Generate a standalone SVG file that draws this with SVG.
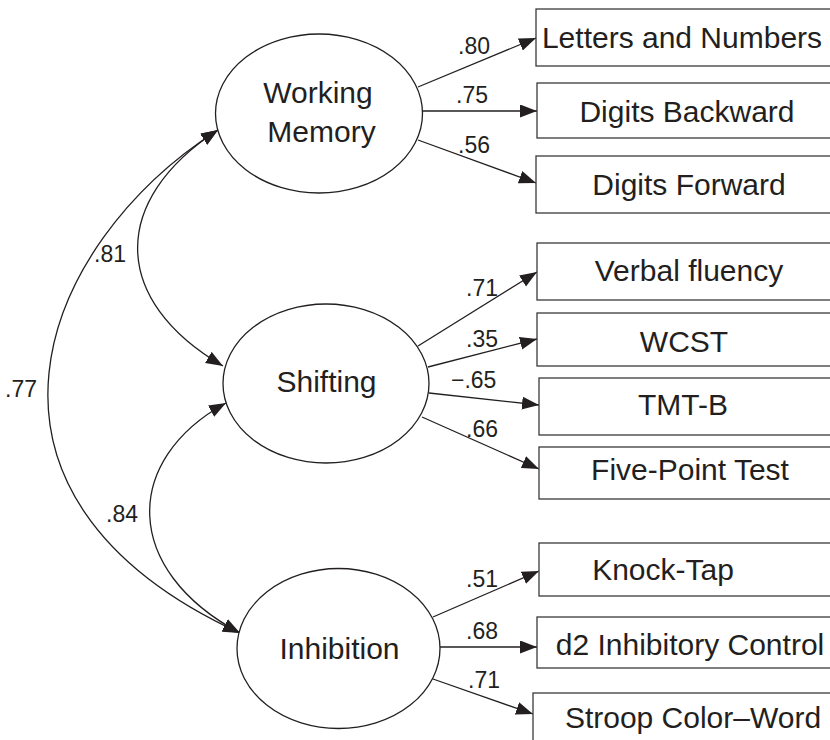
<svg xmlns="http://www.w3.org/2000/svg" width="830" height="740" viewBox="0 0 830 740">
<style>
.lat{fill:#fff;stroke:#231f20;stroke-width:1.3}
.box{fill:#fff;stroke:#3a3a3a;stroke-width:1.3}
.t{font-family:"Liberation Sans",Arial,sans-serif;font-size:30px;fill:#231f20;text-anchor:middle}
.lb{font-family:"Liberation Sans",Arial,sans-serif;font-size:23px;fill:#231f20}
.c{fill:none;stroke:#231f20;stroke-width:1.3}
</style>
<defs>
<marker id="ah" markerUnits="userSpaceOnUse" markerWidth="18" markerHeight="14" refX="17" refY="6.5" orient="auto-start-reverse">
<path d="M0,0 L17,6.5 L0,13 z" fill="#231f20"/>
</marker>
</defs>
<rect width="830" height="740" fill="#fff"/>
<g id="connectors">
<path class="c" d="M418,87 L536,38" marker-end="url(#ah)"/>
<path class="c" d="M423,111 L537,111" marker-end="url(#ah)"/>
<path class="c" d="M418,140 L536,183" marker-end="url(#ah)"/>
<path class="c" d="M418,346 L537,272" marker-end="url(#ah)"/>
<path class="c" d="M428,367 L537,339" marker-end="url(#ah)"/>
<path class="c" d="M429,393 L539,405" marker-end="url(#ah)"/>
<path class="c" d="M422,417 L539,469" marker-end="url(#ah)"/>
<path class="c" d="M433,617 L539,571" marker-end="url(#ah)"/>
<path class="c" d="M440,647 L537,647" marker-end="url(#ah)"/>
<path class="c" d="M433,679 L533,714" marker-end="url(#ah)"/>
<path class="c" d="M218,130 C110,200 110,300 223,366" marker-start="url(#ah)" marker-end="url(#ah)"/>
<path class="c" d="M218,130 C38,245 -60,495 240,633" marker-start="url(#ah)" marker-end="url(#ah)"/>
<path class="c" d="M226,403 C122,460 122,570 240,633" marker-start="url(#ah)" marker-end="url(#ah)"/>
<text class="lb" x="458" y="54">.80</text>
<text class="lb" x="456" y="103">.75</text>
<text class="lb" x="458" y="153">.56</text>
<text class="lb" x="466" y="296">.71</text>
<text class="lb" x="466" y="347">.35</text>
<text class="lb" x="451" y="388">−.65</text>
<text class="lb" x="466" y="437">.66</text>
<text class="lb" x="466" y="587">.51</text>
<text class="lb" x="466" y="639">.68</text>
<text class="lb" x="468" y="688">.71</text>
<text class="lb" x="94" y="262">.81</text>
<text class="lb" x="5" y="397">.77</text>
<text class="lb" x="106" y="522">.84</text>
</g>
<g id="working-memory">
<ellipse class="lat" cx="319" cy="113.5" rx="103.5" ry="79.5"/>
<text class="t" x="318" y="103">Working</text>
<text class="t" x="321.5" y="142">Memory</text>
</g>
<g id="shifting">
<ellipse class="lat" cx="326" cy="383.5" rx="103" ry="79.5"/>
<text class="t" x="326.5" y="392">Shifting</text>
</g>
<g id="inhibition">
<ellipse class="lat" cx="338.5" cy="648.5" rx="101.5" ry="80"/>
<text class="t" x="339.5" y="659">Inhibition</text>
</g>
<g id="letters-numbers"><rect class="box" x="536" y="9" width="300" height="57"/><text class="t" x="682" y="48">Letters and Numbers</text></g>
<g id="digits-backward"><rect class="box" x="537" y="83" width="300" height="55"/><text class="t" x="687" y="122">Digits Backward</text></g>
<g id="digits-forward"><rect class="box" x="536" y="156" width="300" height="57"/><text class="t" x="689" y="195">Digits Forward</text></g>
<g id="verbal-fluency"><rect class="box" x="537" y="243" width="300" height="57"/><text class="t" x="689" y="281">Verbal fluency</text></g>
<g id="wcst"><rect class="box" x="537" y="313" width="300" height="53"/><text class="t" x="684" y="352">WCST</text></g>
<g id="tmt-b"><rect class="box" x="539" y="378" width="300" height="57"/><text class="t" x="683" y="415">TMT-B</text></g>
<g id="five-point"><rect class="box" x="539" y="447" width="300" height="52"/><text class="t" x="690" y="480">Five-Point Test</text></g>
<g id="knock-tap"><rect class="box" x="539" y="543" width="300" height="53"/><text class="t" x="663" y="580">Knock-Tap</text></g>
<g id="d2"><rect class="box" x="537" y="617" width="300" height="51"/><text class="t" x="690" y="655">d2 Inhibitory Control</text></g>
<g id="stroop"><rect class="box" x="533" y="693" width="300" height="60"/><text class="t" x="693" y="728">Stroop Color–Word</text></g>
</svg>
